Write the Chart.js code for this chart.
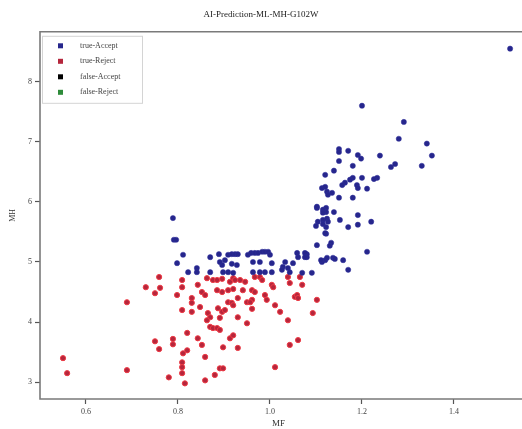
<!DOCTYPE html>
<html>
<head>
<meta charset="utf-8">
<script src="https://cdn.jsdelivr.net/npm/chart.js@4.4.1/dist/chart.umd.min.js"></script>
<style>
  html, body { margin: 0; padding: 0; background: #fff; }
</style>
</head>
<body>
<canvas id="scatterChart" width="522" height="429"></canvas>
<script>
// valores (MF no eixo x, MH no eixo y)
const trueAcceptMF = [1.522, 1.291, 1.280, 1.341, 1.352, 1.330, 1.200, 1.150, 1.150, 1.170, 1.191, 1.198, 1.239, 1.150, 1.180,
  1.139, 1.120, 1.263, 1.272, 1.233, 1.226, 1.200, 1.180, 1.174, 1.163, 1.157, 1.189, 1.191, 1.211, 1.113, 1.120, 1.124, 1.126,
  1.135, 1.150, 1.180, 1.102, 1.122, 1.122, 1.139, 1.191, 1.104, 1.115, 1.124, 1.126, 1.152, 1.100, 1.122, 1.170, 1.191, 1.220,
  1.122, 1.133, 1.102, 1.130, 1.211, 1.080, 1.080, 1.120, 1.113, 1.137, 1.159, 1.170, 1.091, 1.033, 1.028, 1.061, 1.111, 1.124,
  1.141, 0.789, 0.791, 0.796, 0.811, 0.798, 0.822, 0.841, 0.841, 0.870, 0.870, 0.889, 0.896, 0.902, 0.909, 0.917, 0.924, 0.930,
  0.891, 0.898, 0.909, 0.920, 0.928, 0.917, 0.952, 0.959, 0.967, 0.974, 0.983, 0.989, 0.996, 1.000, 0.963, 0.978, 1.004, 0.963,
  0.978, 0.989, 1.004, 1.026, 1.039, 1.050, 1.059, 1.076, 1.076, 1.070, 1.102, 1.115, 1.115, 1.115, 1.120, 1.043];
const trueAcceptMH = [8.55, 7.33, 7.05, 6.97, 6.77, 6.60, 7.60, 6.88, 6.83, 6.85, 6.78, 6.72, 6.77, 6.68, 6.60,
  6.52, 6.45, 6.58, 6.63, 6.40, 6.38, 6.40, 6.40, 6.37, 6.32, 6.28, 6.28, 6.23, 6.22, 6.23, 6.25, 6.17, 6.12,
  6.15, 6.07, 6.07, 5.90, 5.90, 5.83, 5.83, 5.78, 5.67, 5.70, 5.72, 5.67, 5.70, 5.60, 5.58, 5.58, 5.62, 5.67,
  5.47, 5.32, 5.28, 5.27, 5.17, 5.13, 5.08, 5.03, 5.00, 5.07, 5.03, 4.87, 4.82, 5.00, 4.92, 5.08, 5.03, 5.07,
  5.05, 5.73, 5.37, 5.37, 5.12, 4.98, 4.83, 4.90, 4.83, 5.08, 4.83, 5.13, 4.95, 5.03, 5.12, 5.13, 5.13, 5.13,
  5.00, 4.83, 4.83, 4.82, 4.95, 4.97, 5.12, 5.15, 5.15, 5.15, 5.17, 5.17, 5.17, 5.12, 5.00, 5.00, 4.98, 4.83,
  4.83, 4.83, 4.83, 4.87, 4.90, 4.98, 5.15, 5.15, 5.08, 4.82, 5.92, 5.87, 5.82, 5.63, 5.48, 4.83];

const trueRejectMF = [0.759, 0.730, 0.761, 0.750, 0.689, 0.798, 0.750, 0.759, 0.789, 0.789, 0.550, 0.559, 0.689, 0.780,
  0.809, 0.809, 0.809, 0.830, 0.830, 0.830, 0.843, 0.852, 0.848, 0.859, 0.863, 0.865, 0.870, 0.863, 0.876, 0.885, 0.896,
  0.885, 0.896, 0.887, 0.896, 0.902, 0.909, 0.920, 0.909, 0.917, 0.920, 0.913, 0.920, 0.924, 0.935, 0.946, 0.941, 0.930,
  0.950, 0.961, 0.967, 0.961, 0.957, 0.967, 0.978, 0.983, 0.961, 0.930, 0.950, 0.891, 0.870, 0.876, 0.885, 0.891, 0.820,
  0.843, 0.852, 0.913, 0.920, 0.930, 0.898, 0.820, 0.811, 0.809, 0.809, 0.809, 0.815, 0.859, 0.859, 0.880, 0.891, 0.898,
  0.989, 0.993, 1.004, 1.007, 1.011, 1.022, 1.039, 1.043, 1.061, 1.011, 1.039, 1.043, 1.070, 1.054, 1.059, 1.061, 1.093,
  1.102, 1.065];
const trueRejectMH = [4.75, 4.58, 4.57, 4.48, 4.33, 4.45, 3.68, 3.55, 3.72, 3.63, 3.40, 3.15, 3.20, 3.08,
  4.70, 4.58, 4.20, 4.40, 4.32, 4.17, 4.62, 4.50, 4.25, 4.45, 4.73, 4.15, 4.08, 4.03, 4.70, 4.70, 4.72,
  4.53, 4.50, 4.23, 4.17, 4.20, 4.53, 4.55, 4.33, 4.32, 4.28, 4.67, 4.73, 4.70, 4.70, 4.67, 4.53, 4.40,
  4.33, 4.53, 4.50, 4.37, 4.33, 4.75, 4.75, 4.70, 4.22, 4.08, 3.98, 4.07, 3.92, 3.90, 3.90, 3.87, 3.82,
  3.73, 3.62, 3.73, 3.78, 3.57, 3.58, 3.53, 3.48, 3.33, 3.25, 3.15, 2.98, 3.42, 3.03, 3.12, 3.23, 3.23,
  4.45, 4.37, 4.62, 4.58, 4.28, 4.17, 4.03, 3.62, 3.70, 3.25, 4.75, 4.65, 4.62, 4.42, 4.45, 4.40, 4.15,
  4.37, 4.75];

// não há pontos falsos visíveis no gráfico
const falseAcceptMF = [];
const falseAcceptMH = [];
const falseRejectMF = [];
const falseRejectMH = [];

const xTicks = [0.6, 0.8, 1.0, 1.2, 1.4];
const yTicks = [3, 4, 5, 6, 7, 8];

function toPoints(xs, ys) {
    return xs.map((x, i) => ({ x: x, y: ys[i] }));
}

const serif = 'Liberation Serif, Times New Roman, serif';

// moldura (sem o lado direito, que fica cortado na figura) e legenda dentro da área
const frameAndLegend = {
    id: 'frameAndLegend',
    afterDraw(chart) {
        const ctx = chart.ctx;
        const a = chart.chartArea;
        ctx.save();
        ctx.strokeStyle = '#7a7a7a';
        ctx.lineWidth = 1.6;
        ctx.beginPath();
        ctx.moveTo(chart.width, a.top);
        ctx.lineTo(a.left, a.top);
        ctx.lineTo(a.left, a.bottom);
        ctx.lineTo(chart.width, a.bottom);
        ctx.stroke();

        const bx = a.left + 2, by = a.top + 4, bw = 100, bh = 67;
        ctx.fillStyle = 'rgba(255,255,255,0.85)';
        ctx.fillRect(bx, by, bw, bh);
        ctx.strokeStyle = '#d4d4d4';
        ctx.lineWidth = 1;
        ctx.strokeRect(bx + 0.5, by + 0.5, bw, bh);

        ctx.font = '8px ' + serif;
        ctx.textBaseline = 'middle';
        chart.data.datasets.forEach((ds, i) => {
            const y = by + 10 + i * 15.5;
            ctx.fillStyle = ds.backgroundColor;
            ctx.fillRect(bx + 16, y - 2.5, 5, 5);
            ctx.fillStyle = '#444';
            ctx.fillText(ds.label, bx + 38, y);
        });
        ctx.restore();
    }
};

document.addEventListener('DOMContentLoaded', function() {
    const el = document.getElementById('scatterChart');
    new Chart(el, {
        type: 'scatter',
        data: {
            datasets: [{
                label: 'true-Accept',
                data: toPoints(trueAcceptMF, trueAcceptMH),
                backgroundColor: '#26268c',
                borderColor: '#2e2e9a',
                borderWidth: 0.5,
                pointRadius: 2.6
            }, {
                label: 'true-Reject',
                data: toPoints(trueRejectMF, trueRejectMH),
                backgroundColor: '#b5263c',
                borderColor: '#ee3a44',
                borderWidth: 1,
                pointRadius: 2.6
            }, {
                label: 'false-Accept',
                data: toPoints(falseAcceptMF, falseAcceptMH),
                backgroundColor: '#000000',
                borderColor: '#000000',
                pointRadius: 2.6
            }, {
                label: 'false-Reject',
                data: toPoints(falseRejectMF, falseRejectMH),
                backgroundColor: '#2e8b3a',
                borderColor: '#2e8b3a',
                pointRadius: 2.6
            }]
        },
        options: {
            responsive: false,
            animation: false,
            layout: { padding: 0 },
            plugins: {
                legend: { display: false },
                tooltip: { enabled: false },
                title: {
                    display: true,
                    text: 'AI-Prediction-ML-MH-G102W',
                    color: '#222',
                    font: { family: serif, size: 9, weight: 'normal' },
                    padding: { top: 9, bottom: 12 }
                }
            },
            scales: {
                x: {
                    type: 'linear',
                    min: 0.5,
                    max: 1.537,
                    afterBuildTicks: s => { s.ticks = xTicks.map(v => ({ value: v })); },
                    afterFit: s => { s.height = 30; },
                    ticks: {
                        callback: v => v.toFixed(1),
                        color: '#444',
                        font: { family: serif, size: 8 },
                        padding: 3,
                        maxRotation: 0,
                        autoSkip: false
                    },
                    grid: { drawOnChartArea: false, drawTicks: true, tickLength: 5, tickColor: '#555', tickWidth: 1.2 },
                    border: { display: false },
                    title: {
                        display: true,
                        text: 'MF',
                        color: '#333',
                        font: { family: serif, size: 9 },
                        padding: 0
                    }
                },
                y: {
                    type: 'linear',
                    min: 2.72,
                    max: 8.83,
                    afterBuildTicks: s => { s.ticks = yTicks.map(v => ({ value: v })); },
                    afterFit: s => { s.width = 40; },
                    ticks: {
                        callback: v => String(v),
                        color: '#444',
                        font: { family: serif, size: 8 },
                        padding: 3,
                        autoSkip: false
                    },
                    grid: { drawOnChartArea: false, drawTicks: true, tickLength: 5, tickColor: '#555', tickWidth: 1.2 },
                    border: { display: false },
                    title: {
                        display: true,
                        text: 'MH',
                        color: '#333',
                        font: { family: serif, size: 8 },
                        padding: { top: 8, bottom: 0 }
                    }
                }
            }
        },
        plugins: [frameAndLegend]
    });
});
</script>
</body>
</html>
